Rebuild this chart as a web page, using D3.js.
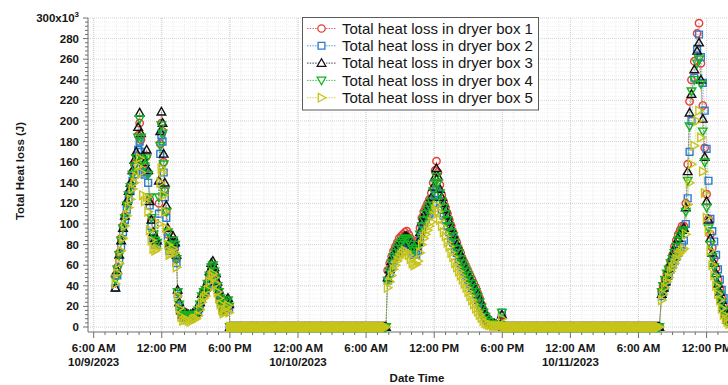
<!DOCTYPE html>
<html>
<head>
<meta charset="utf-8">
<script src="https://cdn.jsdelivr.net/npm/d3@7"></script>
<style>
  html, body { margin: 0; padding: 0; background: #fff; overflow: hidden; }
  text { font-family: Arial, "Liberation Sans", sans-serif; fill: #161616; }
</style>
</head>
<body>
<svg id="chart" width="728" height="385"></svg>
<script>
// Logged readings: time in minutes after 2023-10-09 00:00, heat loss in kJ (x10^3 J)
const seriesNames = [
  "Total heat loss in dryer box 1",
  "Total heat loss in dryer box 2",
  "Total heat loss in dryer box 3",
  "Total heat loss in dryer box 4",
  "Total heat loss in dryer box 5"
];

// overnight idle readings (every 5 minutes, dryers off)
const idleMinutesNight1 = [
  1080,1085,1090,1095,1100,1105,1110,1115,1120,1125,
  1130,1135,1140,1145,1150,1155,1160,1165,1170,1175,
  1180,1185,1190,1195,1200,1205,1210,1215,1220,1225,
  1230,1235,1240,1245,1250,1255,1260,1265,1270,1275,
  1280,1285,1290,1295,1300,1305,1310,1315,1320,1325,
  1330,1335,1340,1345,1350,1355,1360,1365,1370,1375,
  1380,1385,1390,1395,1400,1405,1410,1415,1420,1425,
  1430,1435,1440,1445,1450,1455,1460,1465,1470,1475,
  1480,1485,1490,1495,1500,1505,1510,1515,1520,1525,
  1530,1535,1540,1545,1550,1555,1560,1565,1570,1575,
  1580,1585,1590,1595,1600,1605,1610,1615,1620,1625,
  1630,1635,1640,1645,1650,1655,1660,1665,1670,1675,
  1680,1685,1690,1695,1700,1705,1710,1715,1720,1725,
  1730,1735,1740,1745,1750,1755,1760,1765,1770,1775,
  1780,1785,1790,1795,1800,1805,1810,1815,1820,1825,
  1830,1835,1840,1845,1850,1855,1860,1865,1870,1875,
  1880,1885,1890,1895,1900,1905
];
const idleMinutesNight2 = [
  2525,2530,2535,2540,2545,2550,2555,2560,2565,2570,
  2575,2580,2585,2590,2595,2600,2605,2610,2615,2620,
  2625,2630,2635,2640,2645,2650,2655,2660,2665,2670,
  2675,2680,2685,2690,2695,2700,2705,2710,2715,2720,
  2725,2730,2735,2740,2745,2750,2755,2760,2765,2770,
  2775,2780,2785,2790,2795,2800,2805,2810,2815,2820,
  2825,2830,2835,2840,2845,2850,2855,2860,2865,2870,
  2875,2880,2885,2890,2895,2900,2905,2910,2915,2920,
  2925,2930,2935,2940,2945,2950,2955,2960,2965,2970,
  2975,2980,2985,2990,2995,3000,3005,3010,3015,3020,
  3025,3030,3035,3040,3045,3050,3055,3060,3065,3070,
  3075,3080,3085,3090,3095,3100,3105,3110,3115,3120,
  3125,3130,3135,3140,3145,3150,3155,3160,3165,3170,
  3175,3180,3185,3190,3195,3200,3205,3210,3215,3220,
  3225,3230,3235,3240,3245,3250,3255,3260,3265,3270,
  3275,3280,3285,3290,3295,3300,3305,3310,3315,3320,
  3325,3330,3335,3340,3345,3350
];
const idleReadings = [
  0,0,0,0,0,0,0,0,0,0,
  0,0,0,0,0,0,0,0,0,0,
  0,0,0,0,0,0,0,0,0,0,
  0,0,0,0,0,0,0,0,0,0,
  0,0,0,0,0,0,0,0,0,0,
  0,0,0,0,0,0,0,0,0,0,
  0,0,0,0,0,0,0,0,0,0,
  0,0,0,0,0,0,0,0,0,0,
  0,0,0,0,0,0,0,0,0,0,
  0,0,0,0,0,0,0,0,0,0,
  0,0,0,0,0,0,0,0,0,0,
  0,0,0,0,0,0,0,0,0,0,
  0,0,0,0,0,0,0,0,0,0,
  0,0,0,0,0,0,0,0,0,0,
  0,0,0,0,0,0,0,0,0,0,
  0,0,0,0,0,0,0,0,0,0,
  0,0,0,0,0,0
];

const dayMinutes1 = [
  475,485,495,505,515,525,535,545,555,565,575,585,595,603,
  610,620,630,640,648,656,665,675,685,695,
  705,712,718,724,730,736,744,752,760,770,
  780,790,798,804,812,822,832,842,852,862,
  872,882,892,902,912,922,932,942,952,962,
  972,982,990,998,1006,1014,1022,1030,1038,1046,
  1054,1062,1070,1076
];
const dayMinutes2 = [
  1914,1925,1935,1945,1955,1965,1975,1985,1995,2005,
  2015,2025,2035,2045,2055,2065,2075,2085,2095,2105,
  2115,2125,2135,2145,2155,2165,2172,2180,2190,2200,
  2210,2220,2230,2240,2250,2260,2270,2280,2290,2300,
  2310,2320,2330,2340,2350,2360,2370,2380,2390,2400,
  2410,2420,2430,2440,2450,2460,2470,2480,2490,2500,
  2510,2518
];
const dayMinutes3 = [
  3363,3370,3380,3390,3400,3410,3420,3430,3440,3450,
  3460,3470,3480,3490,3500,3510,3520,3535,3550,3560,
  3570,3580,3590,3600,3610,3620,3630,3640,3650,3660,
  3670,3680,3690,3700,3710,3720
];

const minutes = [...dayMinutes1, ...idleMinutesNight1, ...dayMinutes2, ...idleMinutesNight2, ...dayMinutes3];

const box1 = [
  50,58,72,86,98,108,120,130,138,150,158,166,186,198,
  182,160,152,166,150,124,104,90,84,82,
  120,178,198,190,160,132,112,90,78,80,
  84,80,66,34,22,14,11,12,12,11,
  10,12,12,13,16,22,30,34,36,42,
  50,56,58,54,48,40,34,28,22,17,
  20,24,26,20,
  ...idleReadings,
  55,62,68,74,78,82,86,88,90,92,
  93,90,86,82,80,80,84,96,106,112,
  116,120,124,130,140,152,161,150,138,128,
  122,116,110,104,98,92,86,82,76,72,
  66,62,58,54,50,46,42,38,33,28,
  22,17,12,9,6,4,3,3,2,2,
  2,11,
  ...idleReadings,
  35,40,46,52,58,64,70,78,84,90,
  94,98,98,120,158,219,240,258,285,295,
  256,215,174,129,105,90,77,66,57,46,
  38,28,20,13,8,5
];
const box2 = [
  38,50,64,78,92,104,114,124,132,142,148,156,172,180,
  170,150,148,150,140,118,98,86,80,80,
  110,168,186,180,150,126,106,86,74,78,
  82,78,62,32,20,12,9,10,10,9,
  9,10,11,12,14,20,28,32,34,40,
  48,54,55,52,46,38,32,26,20,15,
  18,22,24,18,
  ...idleReadings,
  45,52,58,64,68,72,76,78,80,82,
  82,80,76,72,70,70,74,84,94,100,
  104,108,110,114,120,128,134,130,122,114,
  108,104,98,92,86,82,76,72,66,62,
  58,54,50,46,42,38,35,31,27,23,
  18,14,10,7,5,4,3,2,2,2,
  2,14,
  ...idleReadings,
  30,34,38,44,50,56,60,64,68,72,
  76,80,84,100,125,170,200,242,270,284,
  262,237,210,173,142,105,93,83,70,56,
  46,36,28,20,14,10
];
const box3 = [
  38,55,70,84,96,108,122,132,140,152,162,170,194,208,
  188,166,160,172,152,122,104,92,86,84,
  142,190,209,198,168,140,118,96,82,84,
  88,82,70,36,24,16,12,14,13,12,
  12,13,14,14,18,24,32,36,38,44,
  54,62,64,58,52,44,36,30,24,19,
  22,26,28,22,
  ...idleReadings,
  48,56,64,70,74,78,82,84,86,88,
  88,86,82,80,78,78,82,92,102,108,
  112,116,120,126,136,146,154,146,134,126,
  120,114,108,102,96,90,84,80,74,70,
  64,60,56,52,48,44,40,36,31,26,
  20,16,12,8,6,4,3,3,2,2,
  2,12,
  ...idleReadings,
  32,38,44,50,56,62,68,74,80,86,
  90,94,96,116,151,208,226,250,268,276,
  240,202,165,122,104,86,72,62,52,42,
  34,26,18,12,7,5
];
const box4 = [
  46,56,70,84,96,106,118,128,136,148,156,164,184,202,
  184,162,156,164,148,126,106,90,84,82,
  126,176,196,188,158,132,112,92,78,80,
  84,80,66,34,22,14,10,12,11,10,
  10,12,12,12,16,22,30,34,36,42,
  50,58,60,54,48,40,34,28,22,17,
  20,24,26,20,
  ...idleReadings,
  45,54,62,68,72,76,80,82,84,86,
  86,84,80,76,74,76,80,90,98,104,
  110,114,118,122,132,140,146,140,130,122,
  116,110,104,98,92,88,82,76,72,66,
  62,58,54,50,46,42,38,34,29,24,
  19,14,10,7,5,3,3,2,2,2,
  2,14,
  ...idleReadings,
  34,40,46,52,56,62,66,72,78,84,
  88,92,94,112,142,195,229,240,256,260,
  236,190,160,116,96,80,68,58,48,40,
  32,24,16,10,6,4
];
const box5 = [
  42,52,62,74,86,98,108,116,124,134,140,146,156,164,
  150,128,122,126,112,94,84,76,74,76,
  100,140,154,150,128,112,96,80,70,72,
  76,72,58,30,18,10,6,7,7,6,
  5,7,8,8,11,17,24,28,30,36,
  44,50,52,48,42,34,28,22,17,13,
  15,19,21,14,
  ...idleReadings,
  38,44,50,56,60,64,67,70,72,74,
  73,70,66,62,60,61,64,72,80,86,
  90,94,98,102,108,114,118,112,104,98,
  92,88,82,78,72,68,62,58,54,50,
  46,42,38,34,30,26,22,18,15,12,
  9,6,4,3,2,2,1,1,1,1,
  1,8,
  ...idleReadings,
  26,32,38,44,48,54,58,62,66,70,
  72,74,76,90,119,140,158,176,200,210,
  184,151,130,106,93,74,60,50,40,32,
  26,18,12,8,5,3
];

const yTickValues = [0,20,40,60,80,100,120,140,160,180,200,220,240,260,280,300];
const colors = ["#e2403a", "#2b7bcf", "#111111", "#13b31f", "#c7c41a"];
const shapes = ["circle", "square", "triangleUp", "triangleDown", "triangleRight"];

// ---------------------------------------------------------------
(function draw() {
  const svg = d3.select("#chart");
  const pL = 88, pR = 729.3, pT = 18, pB = 332, gridR = 730;
  const t0 = new Date(2023, 9, 9, 0, 0);
  const toDate = m => new Date(t0.getTime() + m * 60000);

  const x = d3.scaleTime()
    .domain([new Date(2023, 9, 9, 5, 30), new Date(2023, 9, 11, 14, 0)])
    .range([pL, pR]);
  const y = d3.scaleLinear().domain([-4.85, 300]).range([pB, pT]);

  // grid
  const grid = svg.append("g");
  const hourTicks = d3.timeHour.every(1).range(x.domain()[0], x.domain()[1]);
  const sixTicks = d3.timeHour.every(6).range(x.domain()[0], x.domain()[1]);
  grid.append("g").selectAll("line").data(hourTicks).join("line")
    .attr("x1", d => x(d)).attr("x2", d => x(d)).attr("y1", pT).attr("y2", pB)
    .attr("stroke", "#e6e6e6").attr("stroke-width", 0.8).attr("stroke-dasharray", "1,1");
  grid.append("g").selectAll("line").data(d3.range(0, 301, 4)).join("line")
    .attr("x1", pL).attr("x2", gridR).attr("y1", d => y(d)).attr("y2", d => y(d))
    .attr("stroke", "#ececec").attr("stroke-width", 0.8).attr("stroke-dasharray", "1,1");
  grid.append("g").selectAll("line").data(sixTicks).join("line")
    .attr("x1", d => x(d)).attr("x2", d => x(d)).attr("y1", pT).attr("y2", pB)
    .attr("stroke", "#c8c8c8").attr("stroke-width", 0.9).attr("stroke-dasharray", "1,1");
  grid.append("g").selectAll("line").data(yTickValues).join("line")
    .attr("x1", pL).attr("x2", gridR).attr("y1", d => y(d)).attr("y2", d => y(d))
    .attr("stroke", "#d2d2d2").attr("stroke-width", 0.9).attr("stroke-dasharray", "1,1");

  // axes
  const axisColor = "#6e6e6e";
  svg.append("line").attr("x1", pL).attr("x2", pL).attr("y1", pT).attr("y2", pB)
    .attr("stroke", axisColor);
  svg.append("line").attr("x1", pL).attr("x2", gridR).attr("y1", pB).attr("y2", pB)
    .attr("stroke", axisColor);

  svg.append("g").selectAll("line").data(d3.range(0, 301, 4)).join("line")
    .attr("x1", d => pL - (d % 20 === 0 ? 5 : 3)).attr("x2", pL)
    .attr("y1", d => y(d)).attr("y2", d => y(d)).attr("stroke", axisColor);
  svg.append("g").selectAll("line").data(hourTicks).join("line")
    .attr("x1", d => x(d)).attr("x2", d => x(d))
    .attr("y1", pB).attr("y2", d => pB + (d.getHours() % 6 === 0 ? 6 : 3))
    .attr("stroke", axisColor);

  const yLab = svg.append("g").attr("font-size", 11.5).attr("font-weight", "bold").attr("text-anchor", "end");
  yTickValues.forEach(v => {
    const t = yLab.append("text").attr("x", 79).attr("y", y(v) + 4);
    if (v === 300) {
      t.text("300x10");
      t.append("tspan").attr("font-size", 8).attr("dy", -5).text("3");
    } else t.text(v);
  });

  const fmtTime = d3.timeFormat("%-I:%M %p");
  const fmtDate = d3.timeFormat("%-m/%-d/%Y");
  const xLab = svg.append("g").attr("font-size", 11.5).attr("font-weight", "bold").attr("text-anchor", "middle");
  sixTicks.forEach((d, i) => {
    xLab.append("text").attr("x", x(d)).attr("y", 352).text(fmtTime(d));
    if (i === 0 || d.getHours() === 0) xLab.append("text").attr("x", x(d)).attr("y", 365.5).text(fmtDate(d));
  });

  svg.append("text").attr("x", 417).attr("y", 381.5).attr("text-anchor", "middle")
    .attr("font-size", 11.5).attr("font-weight", "bold").text("Date Time");
  svg.append("text").attr("transform", "translate(24,171) rotate(-90)").attr("text-anchor", "middle")
    .attr("font-size", 11.5).attr("font-weight", "bold").text("Total Heat loss (J)");

  // marker shapes
  function markerPath(kind) {
    switch (kind) {
      case "circle": { const r = 3.7; return `M${r},0A${r},${r} 0 1,1 ${-r},0A${r},${r} 0 1,1 ${r},0Z`; }
      case "square": return "M-3.4,-3.4H3.4V3.4H-3.4Z";
      case "triangleUp": return "M0,-4.4L4.3,3.2L-4.3,3.2Z";
      case "triangleDown": return "M0,4.4L4.3,-3.2L-4.3,-3.2Z";
      case "triangleRight": return "M4.4,0L-3.2,-4.3L-3.2,4.3Z";
    }
  }

  // data
  svg.append("clipPath").attr("id", "plotClip").append("rect")
    .attr("x", pL).attr("y", 5).attr("width", gridR - pL).attr("height", 335);
  const plot = svg.append("g").attr("clip-path", "url(#plotClip)");

  const series = [box1, box2, box3, box4, box5].map((vals, i) => ({
    name: seriesNames[i], color: colors[i], shape: shapes[i],
    points: vals.map((v, j) => ({ t: toDate(minutes[j]), v }))
  }));

  const line = d3.line().x(d => x(d.t)).y(d => y(d.v));
  series.forEach(s => {
    plot.append("path").attr("d", line(s.points)).attr("fill", "none")
      .attr("stroke", s.color).attr("stroke-opacity", 0.55).attr("stroke-width", 0.8)
      .attr("stroke-dasharray", "1.5,1.2");
  });
  series.forEach(s => {
    plot.append("g").selectAll("path").data(s.points).join("path")
      .attr("d", markerPath(s.shape))
      .attr("transform", d => `translate(${x(d.t)},${y(d.v)})`)
      .attr("fill", "none").attr("stroke", s.color).attr("stroke-width", 1.4);
  });

  // legend
  const lg = svg.append("g");
  lg.append("rect").attr("x", 302.5).attr("y", 17.5).attr("width", 236).attr("height", 92.5)
    .attr("fill", "#fff").attr("stroke", "#5a5a5a").attr("stroke-width", 1);
  series.forEach((s, i) => {
    const cy = 28.5 + i * 17.3;
    lg.append("line").attr("x1", 307).attr("x2", 336).attr("y1", cy).attr("y2", cy)
      .attr("stroke", s.color).attr("stroke-width", 0.8).attr("stroke-dasharray", "1.5,1.2");
    lg.append("path").attr("d", markerPath(s.shape)).attr("transform", `translate(321.5,${cy})`)
      .attr("fill", "#fff").attr("stroke", s.color).attr("stroke-width", 1.3);
    lg.append("text").attr("x", 342).attr("y", cy + 5.3).attr("font-size", 15).text(s.name);
  });
})();
</script>
</body>
</html>
